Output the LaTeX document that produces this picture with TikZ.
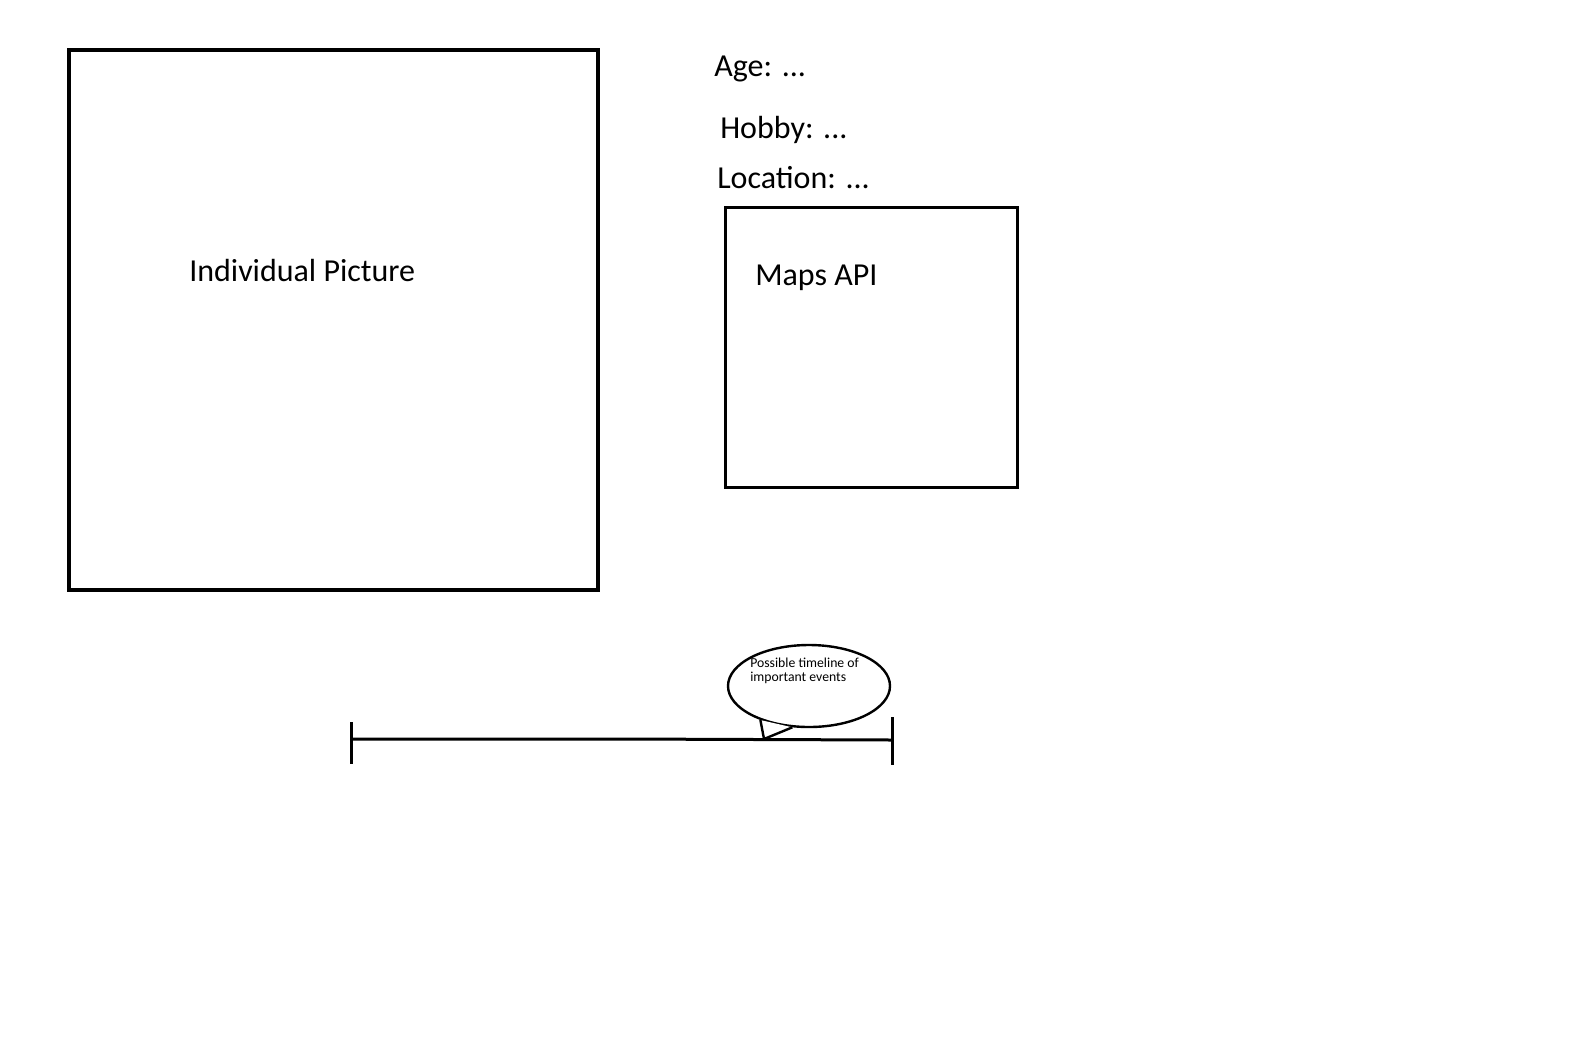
\documentclass[tikz,border=0pt]{standalone}
\usepackage{fontspec}
\setmainfont{Carlito}
\usetikzlibrary{shapes.geometric}
\tikzset{
  bigbox/.style={draw, line width=3.2pt, inner sep=0pt, anchor=north west},
  mapbox/.style={draw, line width=1.9pt, inner sep=0pt, anchor=north west},
  txt/.style={anchor=west, inner sep=0pt, font=\fontsize{24}{28}\selectfont},
  smalltxt/.style={anchor=west, inner sep=0pt, font=\fontsize{10.3}{12}\selectfont},
  bubble/.style={draw, ellipse, line width=1.8pt, inner sep=0pt, minimum width=121.5pt, minimum height=61.5pt},
  tline/.style={line width=2.25pt}
}
\begin{document}
\begin{tikzpicture}[x=0.75pt,y=-0.75pt]
\useasboundingbox (0,0) rectangle (1590,1046);
\fill[white] (0,0) rectangle (1590,1046);
% boxes
\node (pic) [bigbox, minimum width=396.75pt, minimum height=405pt] at (67,48) {};
\node (maps) [mapbox, minimum width=219pt, minimum height=210pt] at (724,206) {};
% texts
\node (pictxt) [txt] at (189,271) {Individual Picture};
\node (age) [txt] at (714,69) {Age: ...};
\node (hobby) [txt] at (720,130) {Hobby: ...};
\node (loc) [txt] at (717,178) {Location: ...};
\node (mapstxt) [txt] at (755,278) {Maps API};
% timeline
\coordinate (tl) at (351,739);
\coordinate (tm) at (622,739);
\coordinate (tr) at (892,740);
\coordinate (tlt) at (351,722);
\coordinate (tlb) at (351,764);
\coordinate (trt) at (892,717);
\coordinate (trb) at (892,765);
\draw[tline] (tl) -- (tm) -- (tr);
\draw[tline] (tlt) -- (tlb);
\draw[tline] (trt) -- (trb);
% bubble
\node (bub) [bubble] at (809,686) {};
\coordinate (tip) at (764,739);
\fill[white] (bub.215) -- (tip) -- (bub.248) -- cycle;
\draw[line width=1.8pt, line join=round] (bub.215) -- (tip) -- (bub.248);
\node (b1) [smalltxt] at (750,663) {Possible timeline of};
\node (b2) [smalltxt] at (750,678) {important events};
\end{tikzpicture}
\end{document}
